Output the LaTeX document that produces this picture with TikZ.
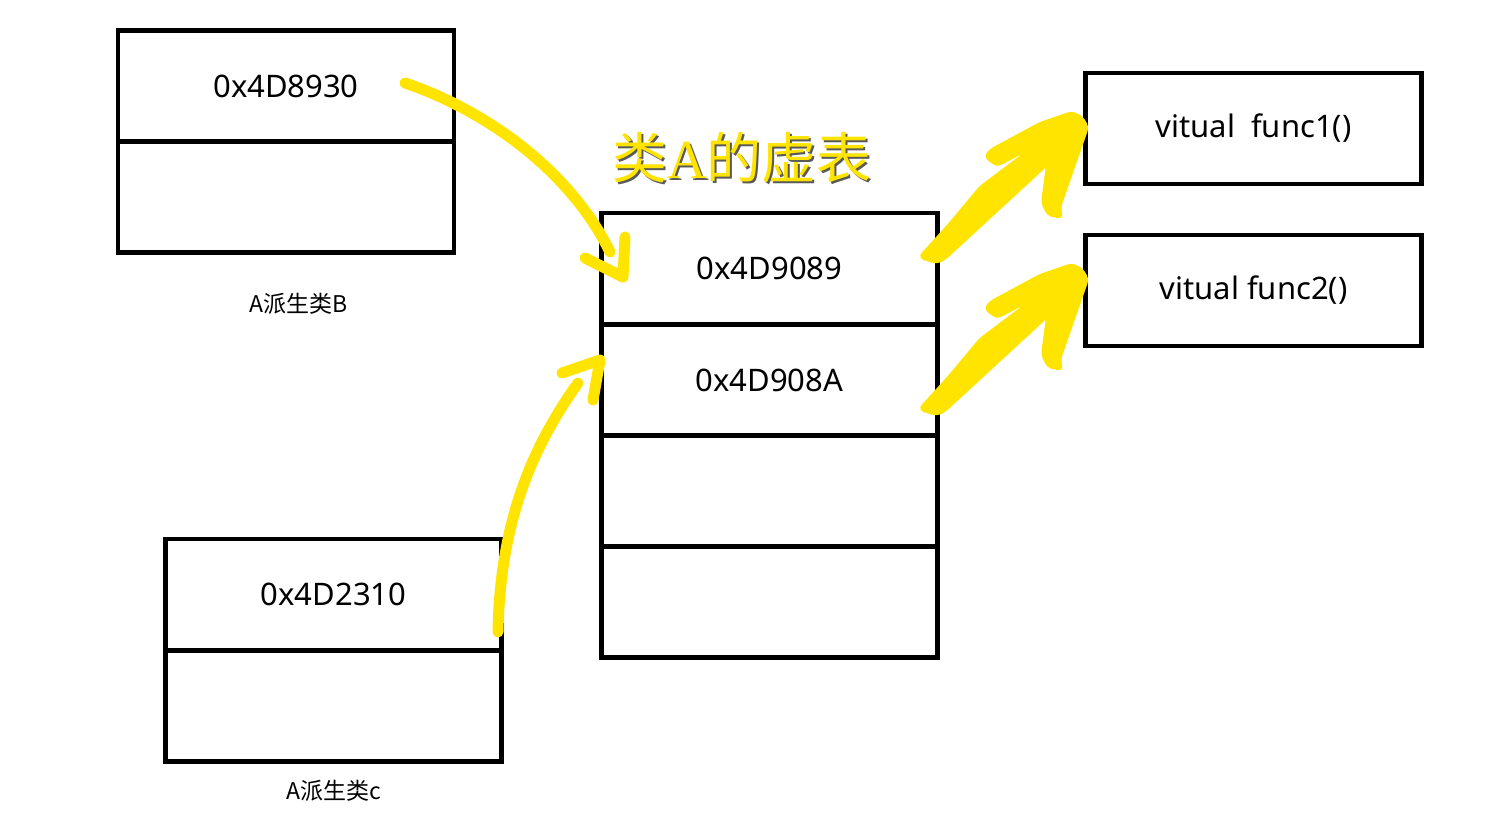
\documentclass[tikz,border=0pt]{standalone}
\usepackage{fontspec}
\setmainfont{Noto Sans}
\newfontfamily\cjk{Noto Sans CJK SC}
\newfontfamily\serifA{Liberation Serif}
\definecolor{hl}{HTML}{FFE400}
\definecolor{shade}{HTML}{5A5A5A}
\tikzset{
  cell/.style={draw, line width=2.2pt, minimum width=168pt, minimum height=55.5pt,
    inner sep=0pt, outer sep=0pt, font=\fontsize{15.5pt}{18pt}\selectfont},
  caption/.style={font=\cjk\fontsize{11.5pt}{13pt}\selectfont},
  hlstroke/.style={draw=hl, line width=5.5pt, line cap=round, line join=round},
  hlshape/.style={fill=hl, draw=hl, line width=1pt, rounded corners=2pt},
  titletext/.style={font=\fontsize{27.5pt}{31pt}\selectfont}
}
\begin{document}
\begin{tikzpicture}[x=0.5pt,y=-0.5pt]
\useasboundingbox[fill=white] (0,0) rectangle (1496,831);

% object of class B
\node[cell] (b1) at (286,86) {0x4D8930};
\node[cell] (b2) at (286,197) {};
\node[caption] (bcap) at (299,304) {A派生类B};

% object of class C
\node[cell] (c1) at (333.5,594.5) {0x4D2310};
\node[cell] (c2) at (333.5,706) {};
\node[caption] (ccap) at (334,791) {A派生类c};

% vtable
\node[cell] (v1) at (769.5,268.5) {0x4D9089};
\node[cell] (v2) at (769.5,380) {0x4D908A};
\node[cell] (v3) at (769.5,491.5) {};
\node[cell] (v4) at (769.5,602) {};

% functions
\node[cell] (f1) at (1253.5,128.5) {vitual\ \ func1()};
\node[cell] (f2) at (1253.5,290.5) {vitual func2()};

% title with shadow
\node[titletext, text=shade] (titleshadow) at (744,159) {{\cjk 类}{\serifA A}{\cjk 的虚表}};
\node[titletext, text=hl] (title) at (742,157) {{\cjk 类}{\serifA A}{\cjk 的虚表}};

% arrow B -> vtable
\coordinate (a1s) at (405,83);
\coordinate (a1e) at (610,252);
\draw[hlstroke] (a1s) .. controls (485,110) and (570,170) .. (a1e);
\draw[hlstroke] (585,258) -- (623,277) -- (625,237);

% arrow C -> vtable
\coordinate (a2s) at (498,632);
\coordinate (a2e) at (578,383);
\draw[hlstroke] (a2s) .. controls (500,525) and (530,450) .. (a2e);
\draw[hlstroke] (562,373) -- (600,360) -- (593,400);

% arrows vtable -> functions
\foreach \dy in {0,152}{
  \begin{scope}[shift={(0,\dy)}]
  \fill[hlshape] (920,258) -- (937,263) -- (945,259) -- (1047,165) -- (1042,203)
    -- (1048,215) -- (1062,218) -- (1060,207) -- (1088,127) -- (1082,117)
    -- (1072,112) -- (1040,123) -- (990,150) -- (985,157) -- (997,166)
    -- (1033,147) -- (980,187) -- (950,223) -- (923,253) -- cycle;
  \end{scope}
}
\end{tikzpicture}
\end{document}
